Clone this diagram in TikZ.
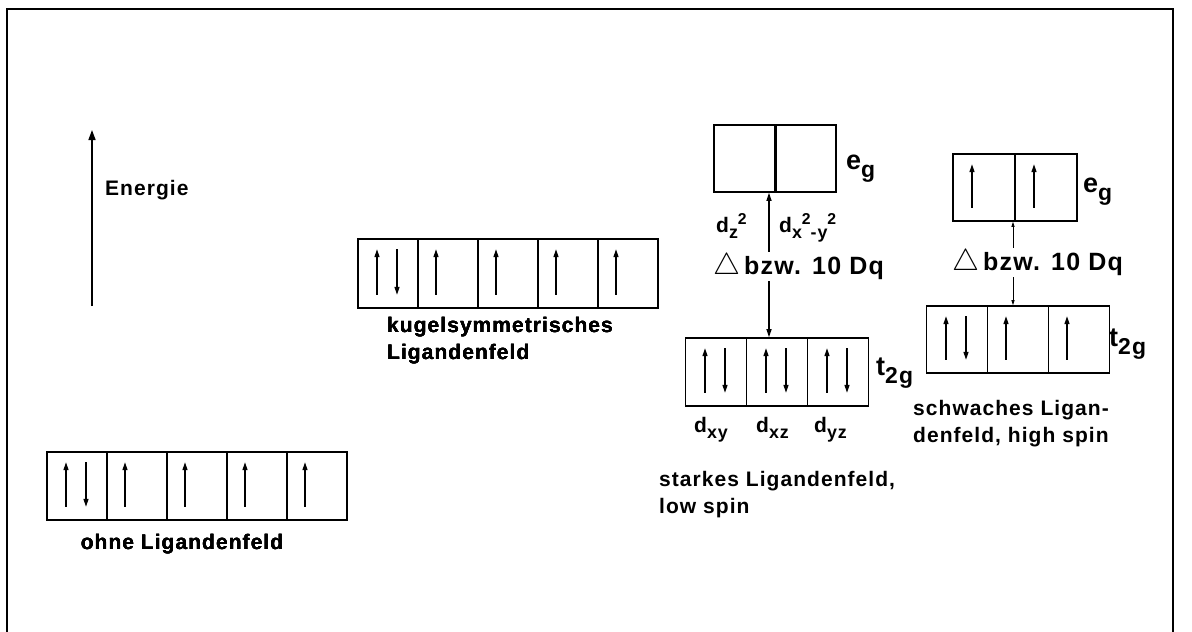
\documentclass[tikz,border=0pt]{standalone}
\usepackage{fontspec}
\setmainfont[LetterSpace=5]{Liberation Sans}
\usetikzlibrary{arrows.meta, positioning}
\tikzset{
        >={Triangle[length=8pt,width=5pt]}, % narrow arrow heads
        orb/.style={draw, line width=1.6pt, minimum width=60pt, minimum height=68pt, inner sep=0pt}, % one orbital box
        spin/.style={->, line width=1.2pt}, % electron arrow
        lbl/.style={font=\bfseries\fontsize{21}{27}\selectfont, inner sep=0pt}, % captions
        big/.style={font=\bfseries\fontsize{27}{30}\selectfont, inner sep=0pt}, % e_g, t_2g
        gap/.style={font=\bfseries\fontsize{25}{30}\selectfont, inner sep=1pt, fill=white}, % Delta label
    }
\newcommand{\spinup}[2][-12pt]{\draw[spin] ([xshift=#1,yshift=14pt]#2.south) -- ([xshift=#1,yshift=-11pt]#2.north);}
\newcommand{\spinpair}[1]{\spinup[-11pt]{#1}\draw[spin] ([xshift=9pt,yshift=-11pt]#1.north) -- ([xshift=9pt,yshift=14pt]#1.south);}
\newcommand{\lo}[1]{\raisebox{-0.3em}{\scalebox{0.85}{#1}}}
\newcommand{\hi}[1]{\raisebox{0.38em}{\scalebox{0.75}{#1}}}
\newcommand{\delt}{\resizebox{27pt}{21pt}{$\triangle$}\hspace{4pt}}

\begin{document}
\begin{tikzpicture}[x=1pt,y=-1pt]
    \useasboundingbox (0,0) rectangle (1192,632);
    % frame
    \draw[line width=2pt] (7,632) -- (7,9) -- (1173,9) -- (1173,632);

    % energy axis
    \coordinate (ebot) at (92,306);
    \coordinate (etop) at (92,130);
    \draw[->, line width=1.5pt, >={Triangle[length=10pt,width=7pt]}] (ebot) -- (etop);
    \node[lbl, anchor=west] (energie) at (105,190) {Energie};

    % ohne Ligandenfeld
    \foreach \i in {1,...,5}
        \node[orb] (o\i) at (17+60*\i,486) {};
    \spinpair{o1}
    \foreach \i in {2,...,5} \spinup{o\i}
    \node[lbl] (ohne) at (182,544) {ohne Ligandenfeld};

    % kugelsymmetrisches Ligandenfeld
    \foreach \i in {1,...,5}
        \node[orb, minimum height=69pt] (k\i) at (328+60*\i,273.5) {};
    \spinpair{k1}
    \foreach \i in {2,...,5} \spinup{k\i}
    \node[lbl, anchor=north west, align=left] (kugel) at (387,317) {kugelsymmetrisches\\Ligandenfeld};

    % starkes Ligandenfeld
    \foreach \i in {1,2}
        \node[orb, minimum width=61pt, minimum height=67pt] (se\i) at (683.5+61*\i,158.5) {};
    \draw[line width=2.6pt] (se1.north east) -- (se1.south east);
    \foreach \i in {1,2,3}
        \node[orb, minimum width=61pt] (s\i) at (655+61*\i,372) {};
    \foreach \i in {1,2,3} \spinpair{s\i}
    \coordinate (sa) at ([xshift=-8pt]s2.north);
    \draw[<->, line width=1.3pt] (sa) -- (sa |- se1.south);
    \node[big, anchor=base west] (seg) at (846,169) {e\lo{g}};
    \node[big, anchor=base west] (stg) at (876,375) {t\lo{2g}};
    \node[lbl, anchor=base west] (dz) at (716,232) {d\lo{z}\hi{2}};
    \node[lbl, anchor=base west] (dx) at (779,232) {d\lo{x}\hi{2}\lo{-y}\hi{2}};
    \node[gap, anchor=base west] (sdelta) at (712,274) {\delt bzw. 10 Dq};
    \node[lbl, anchor=base west] (dxy) at (694,432) {d\lo{xy}};
    \node[lbl, anchor=base west] (dxz) at (756,432) {d\lo{xz}};
    \node[lbl, anchor=base west] (dyz) at (814,432) {d\lo{yz}};
    \node[lbl, anchor=north west, align=left] (stark) at (659,471) {starkes Ligandenfeld,\\low spin};

    % schwaches Ligandenfeld
    \foreach \i in {1,2}
        \node[orb, minimum width=62pt, minimum height=67pt] (we\i) at (922+62*\i,187.5) {};
    \foreach \i in {1,2} \spinup{we\i}
    \foreach \i in {1,2,3}
        \node[orb, minimum width=61pt, minimum height=67pt] (w\i) at (896+61*\i,339.5) {};
    \spinpair{w1}
    \foreach \i in {2,3} \spinup{w\i}
    \coordinate (wa) at ([xshift=-5pt]w2.north);
    \draw[<->, line width=0.8pt, >={Triangle[length=5pt,width=3pt]}] (wa) -- (wa |- we1.south);
    \node[big, anchor=base west] (weg) at (1083,192) {e\lo{g}};
    \node[big, anchor=base west] (wtg) at (1109,346) {t\lo{2g}};
    \node[gap, anchor=base west] (wdelta) at (951,270) {\delt bzw. 10 Dq};
    \node[lbl, anchor=north west, align=left] (schwach) at (913,400) {schwaches Ligan-\\denfeld, high spin};
\end{tikzpicture}
\end{document}
